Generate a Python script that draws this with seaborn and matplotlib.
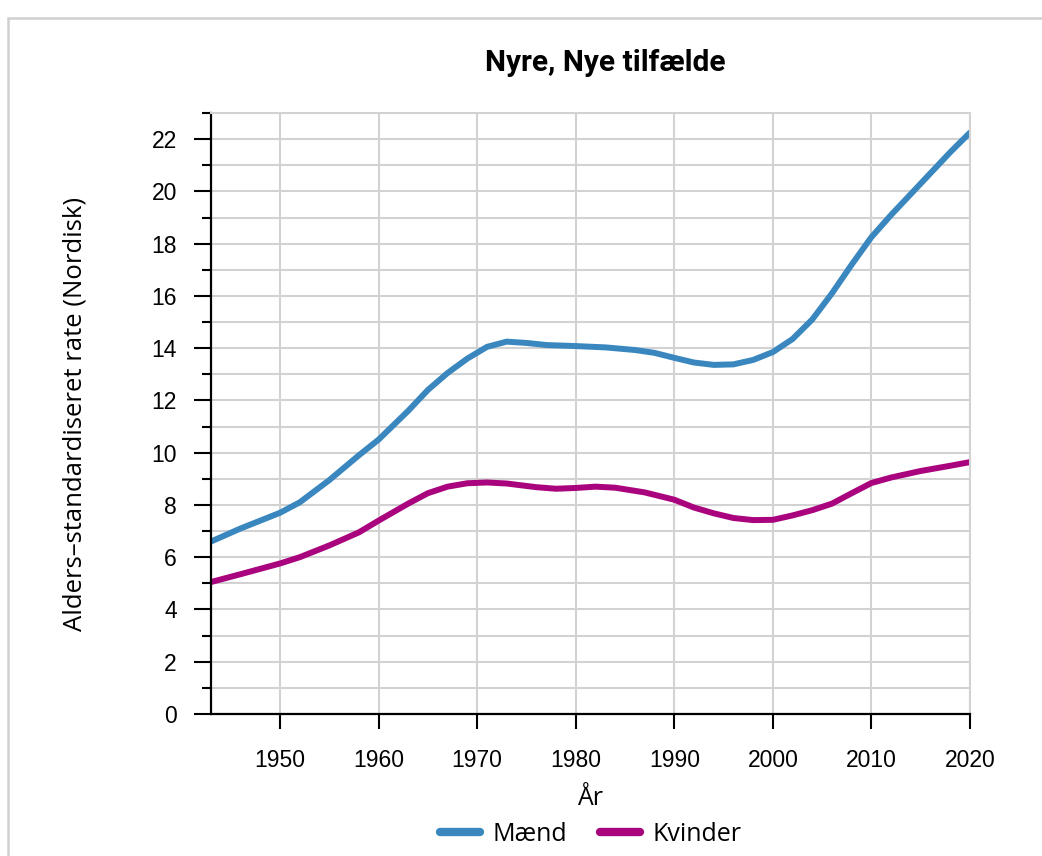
import matplotlib

matplotlib.use("Agg")
import matplotlib.pyplot as plt  # noqa: E402
import pandas as pd  # noqa: E402
import seaborn as sns  # noqa: E402
from matplotlib.patches import Rectangle  # noqa: E402
from matplotlib.ticker import MultipleLocator  # noqa: E402

# values
years_maend = [1943, 1946, 1950, 1952, 1955, 1958, 1960, 1963, 1965, 1967, 1969,
               1971, 1973, 1975, 1977, 1980, 1983, 1986, 1988, 1990, 1992, 1994,
               1996, 1998, 2000, 2002, 2004, 2006, 2008, 2010, 2012, 2015, 2018, 2020]
rate_maend = [6.6, 7.1, 7.7, 8.1, 8.95, 9.9, 10.5, 11.6, 12.4, 13.05, 13.6,
              14.05, 14.25, 14.2, 14.12, 14.08, 14.03, 13.93, 13.82, 13.63, 13.45, 13.36,
              13.38, 13.55, 13.85, 14.35, 15.1, 16.1, 17.2, 18.25, 19.1, 20.3, 21.5, 22.25]

years_kvinder = [1943, 1946, 1950, 1952, 1955, 1958, 1960, 1963, 1965, 1967, 1969,
                 1971, 1973, 1976, 1978, 1980, 1982, 1984, 1987, 1990, 1992, 1994,
                 1996, 1998, 2000, 2002, 2004, 2006, 2008, 2010, 2012, 2015, 2018, 2020]
rate_kvinder = [5.05, 5.35, 5.76, 6.0, 6.45, 6.95, 7.4, 8.05, 8.45, 8.7, 8.83,
                8.86, 8.82, 8.68, 8.62, 8.65, 8.7, 8.66, 8.48, 8.2, 7.9, 7.68,
                7.5, 7.42, 7.43, 7.6, 7.8, 8.05, 8.45, 8.84, 9.05, 9.3, 9.5, 9.64]

x_ticks = [1950, 1960, 1970, 1980, 1990, 2000, 2010, 2020]
y_ticks = [0, 2, 4, 6, 8, 10, 12, 14, 16, 18, 20, 22]

df = pd.concat([
    pd.DataFrame({"År": years_maend, "rate": rate_maend, "køn": "Mænd"}),
    pd.DataFrame({"År": years_kvinder, "rate": rate_kvinder, "køn": "Kvinder"}),
])

sns.set_style("white")
plt.rcParams["font.family"] = ["Liberation Sans", "DejaVu Sans"]
plt.rcParams["text.color"] = "black"
plt.rcParams["axes.labelcolor"] = "black"
plt.rcParams["xtick.color"] = "black"
plt.rcParams["ytick.color"] = "black"
label_font = ["Open Sans", "DejaVu Sans"]

fig = plt.figure(figsize=(10.42, 8.56), dpi=100)
ax = fig.add_axes([0.2025, 0.1659, 0.7284, 0.7021])

palette = {"Mænd": "#3a87bf", "Kvinder": "#a9037e"}
sns.lineplot(data=df, x="År", y="rate", hue="køn", palette=palette,
             linewidth=4.3, ax=ax, legend=False)

ax.set_xlim(1943, 2020)
ax.set_ylim(0, 23)
ax.set_xticks(x_ticks)
ax.set_yticks(y_ticks)
ax.yaxis.set_minor_locator(MultipleLocator(1))
ax.grid(True, which="major", axis="x", color="#d2d2d2", linewidth=1.5)
ax.grid(True, which="both", axis="y", color="#d2d2d2", linewidth=1.5)
ax.set_axisbelow(True)

for side in ["top", "right"]:
    ax.spines[side].set_color("#d2d2d2")
    ax.spines[side].set_linewidth(1.5)
for side in ["left", "bottom"]:
    ax.spines[side].set_color("black")
    ax.spines[side].set_linewidth(1.6)

ax.tick_params(axis="x", which="major", direction="out", length=11, width=1.5,
               labelsize=16.5, pad=14, bottom=True)
ax.tick_params(axis="y", which="major", direction="out", length=12.5, width=1.5,
               labelsize=16.5, pad=12, left=True)
ax.tick_params(axis="y", which="minor", direction="out", length=6.5, width=1.5,
               left=True)

ax.set_xlabel("År", fontsize=18, family=label_font, labelpad=10)
ax.set_ylabel("Alders\u2013standardiseret rate (Nordisk)", fontsize=18.5,
              family=label_font, labelpad=46)
ax.set_title("Nyre, Nye tilfælde", fontsize=21.5, fontweight="bold",
             family=["Roboto", "DejaVu Sans"], pad=30, x=0.52)

handles = [plt.Line2D([], [], color=palette[k], linewidth=6) for k in ["Mænd", "Kvinder"]]
fig.legend(handles, ["Mænd", "Kvinder"], loc="center", bbox_to_anchor=(0.567, 0.025),
           ncol=2, frameon=False, handlelength=1.6, handletextpad=0.5,
           columnspacing=1.3, prop={"family": label_font, "size": 18})

fig.patches.append(Rectangle((8 / 1042, -0.1), 1.2, 1 - 18 / 856 + 0.1,
                             transform=fig.transFigure, fill=False,
                             edgecolor="#d0d0d0", linewidth=1.8))

fig.savefig("out.png", dpi=100)
